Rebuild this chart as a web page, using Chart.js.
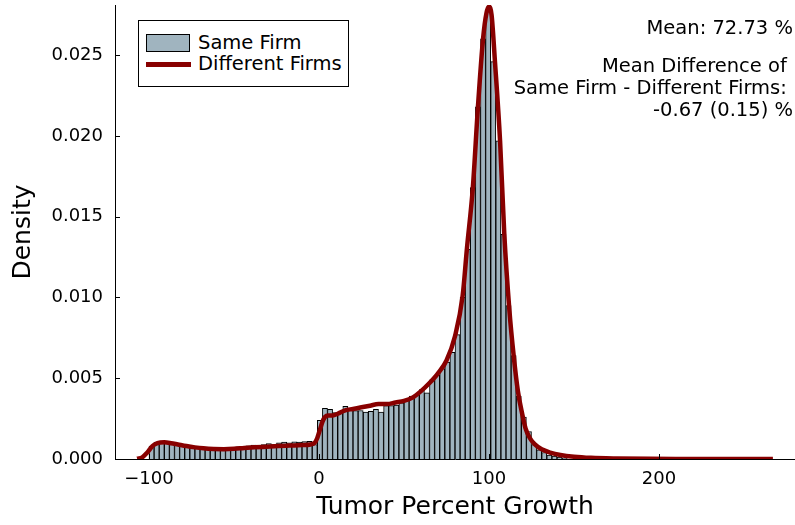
<!DOCTYPE html>
<html>
<head>
<meta charset="utf-8">
<script src="https://cdn.jsdelivr.net/npm/chart.js@4.4.1/dist/chart.umd.min.js"></script>
<style>
  html, body { margin: 0; padding: 0; background: #ffffff; }
  #wrap { position: relative; width: 795px; height: 525px; font-family: "DejaVu Sans", sans-serif; }
  #legend {
    position: absolute; left: 138px; top: 20px; width: 209px; height: 65px;
    border: 1px solid #000; background: #fff; font-size: 19.5px; color: #000;
  }
  .row { position: absolute; left: 7px; height: 22px; line-height: 22px; white-space: nowrap; }
  .swatch-bar { position: absolute; left: 0; top: 2px; width: 42px; height: 16px; background: #a0b4bf; border: 1.5px solid #000; }
  .swatch-line { position: absolute; left: 0; top: 9px; width: 45px; height: 5px; background: #880000; }
  .lbl { position: absolute; left: 52px; top: 0; }
  .note {
    position: absolute; right: 2px; text-align: right;
    font-size: 19.5px; line-height: 22px; color: #000; white-space: pre;
  }
</style>
</head>
<body>
<div id="wrap">
  <canvas id="chart" width="795" height="525"></canvas>
  <div id="legend">
    <div class="row" style="top:11px"><div class="swatch-bar"></div><span class="lbl">Same Firm</span></div>
    <div class="row" style="top:32px"><div class="swatch-line"></div><span class="lbl">Different Firms</span></div>
  </div>
  <div class="note" style="top:17px">Mean: 72.73 %</div>
  <div class="note" style="top:55px">Mean Difference of 
Same Firm - Different Firms: 
-0.67 (0.15) %</div>
</div>
<script>
// ==========================================
// DATA
// ==========================================

const binStart = -100;
const binWidth = 3;

// density of each 3-point bin, from -100 upward
const sameFirm = [
    0.0008, 0.00105, 0.00107, 0.00105, 0.0010, 0.00095, 0.0009, 0.00085,
    0.0008, 0.00076, 0.00072, 0.00068, 0.00062, 0.00058, 0.00058, 0.0006,
    0.00066, 0.00076, 0.0007, 0.00082, 0.00086, 0.0008, 0.0009, 0.00095,
    0.0009, 0.0010, 0.00104, 0.0010, 0.00106, 0.00104, 0.00108, 0.0011,
    0.0009, 0.0024,
    0.00314, 0.00307, 0.00287, 0.00287, 0.00326, 0.00303, 0.00299, 0.0030,
    0.0029, 0.00295, 0.00307, 0.0029, 0.0033, 0.0033, 0.00334, 0.00347,
    0.0037, 0.0039, 0.0040, 0.0043, 0.0041, 0.0049, 0.0052, 0.0056,
    0.0060, 0.0066, 0.0077, 0.0100, 0.0130, 0.0168, 0.0218, 0.0260,
    0.0277, 0.0246, 0.0197, 0.0139, 0.0095, 0.0064, 0.0039, 0.0026,
    0.0017, 0.0009, 0.00056, 0.0004, 0.00025, 0.00018, 0.0001, 0.00005
];

const kdeX = [
    -107, -104, -101, -98, -95, -91, -87, -83, -78, -73, -68, -62, -56, -50,
    -44, -38, -31, -24, -17, -10, -5, -2.5, -1, 0.5, 2, 3.5, 5.5, 8, 11, 15,
    20, 25, 30, 35, 40, 45, 50, 55, 60, 65, 70, 75, 80, 84.5, 87, 90.5, 93.5,
    96.5, 98.5, 100, 101.5, 103.5, 106.5, 109, 112, 114.5, 117, 119.5, 121.5,
    124, 127, 131, 136, 142, 150, 160, 175, 195, 220, 245, 267
];

const differentFirms = [
    0.00002, 0.0001, 0.0004, 0.0008, 0.00098, 0.00103, 0.00098, 0.0009,
    0.0008, 0.00072, 0.00066, 0.00062, 0.00061, 0.00063, 0.00068, 0.00072,
    0.00076, 0.0008, 0.00083, 0.00086, 0.0009, 0.0010, 0.0013, 0.0018,
    0.0023, 0.0026, 0.0027, 0.0027, 0.0028, 0.0030, 0.0031, 0.0032, 0.0033,
    0.0034, 0.0034, 0.0035, 0.0036, 0.0038, 0.0042, 0.0047, 0.0053, 0.0061,
    0.0076, 0.0101, 0.0130, 0.0168, 0.0218, 0.0260, 0.0276, 0.0280, 0.0275,
    0.0246, 0.0197, 0.0139, 0.0092, 0.0064, 0.0042, 0.0028, 0.0019, 0.0013,
    0.0009, 0.0006, 0.0004, 0.00025, 0.00014, 0.00007, 0.00003, 0.00001,
    0.000005, 0, 0
];

const xTicks = [-100, 0, 100, 200];
const yTicks = [0, 0.005, 0.010, 0.015, 0.020, 0.025];

// ==========================================
// CHART
// ==========================================

const barPoints = sameFirm.map((d, i) => ({ x: binStart + binWidth * (i + 0.5), y: d }));
const kdePoints = kdeX.map((x, i) => ({ x: x, y: differentFirms[i] }));

// small inward tick marks like the original
const innerTicks = {
    id: 'innerTicks',
    afterDraw(chart) {
        const ctx = chart.ctx;
        const xs = chart.scales.x;
        const ys = chart.scales.y;
        ctx.save();
        ctx.strokeStyle = '#000';
        ctx.lineWidth = 1;
        ctx.beginPath();
        xTicks.forEach(v => {
            const px = Math.round(xs.getPixelForValue(v)) + 0.5;
            ctx.moveTo(px, ys.bottom);
            ctx.lineTo(px, ys.bottom - 5);
        });
        yTicks.forEach(v => {
            const py = Math.round(ys.getPixelForValue(v)) + 0.5;
            ctx.moveTo(xs.left, py);
            ctx.lineTo(xs.left + 5, py);
        });
        ctx.stroke();
        ctx.restore();
    }
};

new Chart(document.getElementById('chart'), {
    type: 'bar',
    data: {
        datasets: [{
            type: 'line',
            label: 'Different Firms',
            data: kdePoints,
            borderColor: '#880000',
            borderWidth: 4.5,
            pointRadius: 0,
            cubicInterpolationMode: 'monotone',
            order: 0
        }, {
            type: 'bar',
            label: 'Same Firm',
            data: barPoints,
            backgroundColor: '#a0b4bf',
            borderColor: '#000000',
            borderWidth: 1,
            barPercentage: 1,
            categoryPercentage: 1,
            grouped: false,
            order: 1
        }]
    },
    options: {
        responsive: false,
        animation: false,
        layout: { padding: { left: 0, right: 0, top: 5, bottom: 0 } },
        plugins: {
            legend: { display: false },
            tooltip: { enabled: false }
        },
        scales: {
            x: {
                type: 'linear',
                min: -120,
                max: 280,
                offset: false,
                afterFit(s) {
                    s.height = 66;
                    s.paddingLeft = 0;
                    s.paddingRight = 0;
                },
                afterBuildTicks(s) { s.ticks = xTicks.map(v => ({ value: v })); },
                grid: { display: false, drawTicks: false },
                border: { display: true, color: '#000', width: 1 },
                ticks: {
                    padding: 10,
                    color: '#000',
                    font: { family: 'DejaVu Sans', size: 18 },
                    callback: v => String(v).replace('-', '\u2212')
                },
                title: {
                    display: true,
                    text: 'Tumor Percent Growth',
                    color: '#000',
                    font: { family: 'DejaVu Sans', size: 25 },
                    padding: { top: 0, bottom: 3 }
                }
            },
            y: {
                min: 0,
                max: 0.0281,
                afterFit(s) {
                    s.width = 115;
                    s.paddingTop = 0;
                    s.paddingBottom = 0;
                },
                afterBuildTicks(s) { s.ticks = yTicks.map(v => ({ value: v })); },
                grid: { display: false, drawTicks: false },
                border: { display: true, color: '#000', width: 1 },
                ticks: {
                    padding: 12,
                    color: '#000',
                    font: { family: 'DejaVu Sans', size: 18 },
                    callback: v => v.toFixed(3)
                },
                title: {
                    display: true,
                    text: 'Density',
                    color: '#000',
                    font: { family: 'DejaVu Sans', size: 25 },
                    padding: { top: 8, bottom: 0 }
                }
            }
        }
    },
    plugins: [innerTicks]
});
</script>
</body>
</html>
